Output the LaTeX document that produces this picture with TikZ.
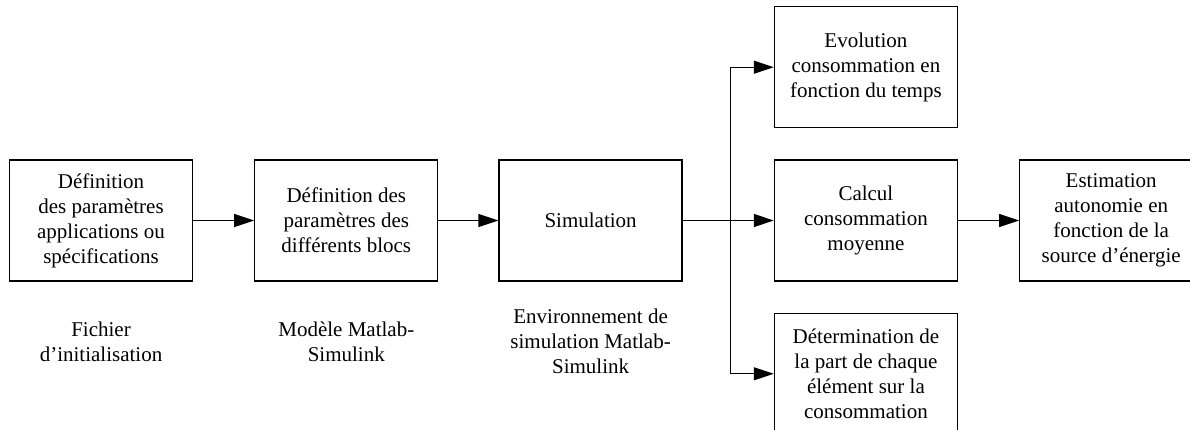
\documentclass[tikz,border=0pt]{standalone}
\usepackage{fontspec}
\setmainfont{Liberation Serif}
\usetikzlibrary{positioning,arrows.meta}

\begin{document}
\begin{tikzpicture}[
		x=1pt, y=-1pt,
		block/.style={rectangle, draw=black, line width=1.3pt, minimum width=183pt, minimum height=121pt, align=center, inner sep=2pt, font=\fontsize{21}{25}\selectfont},
		note/.style={align=center, font=\fontsize{21}{25}\selectfont},
		link/.style={line width=1.3pt, -{Triangle[length=20pt, width=13pt]}},
		]
		\useasboundingbox (0,0) rectangle (1190,430);

		%Main Nodes
		\node[block]	(params)		at (101,220.5)			{Définition\\des paramètres\\applications ou\\spécifications};
		\node[block]	(blocks)		[right=61pt of params]	{Définition des\\paramètres des\\différents blocs};
		\node[block]	(simulation)	[right=60pt of blocks]	{Simulation};

		%Results
		\node[block]	(average)		[right=91pt of simulation]	{Calcul\\consommation\\moyenne};
		\node[block]	(evolution)		[above=31pt of average]		{Evolution\\consommation en\\fonction du temps};
		\node[block]	(share)			[below=31pt of average]		{Détermination de\\la part de chaque\\élément sur la\\consommation};
		\node[block]	(autonomy)		[right=61pt of average]		{Estimation\\autonomie en\\fonction de la\\source d’énergie};

		%Notes
		\node[note]	(note_init)	[below=60pt of params.south, anchor=center]		{Fichier\\d’initialisation};
		\node[note]	(note_model)	[below=60pt of blocks.south, anchor=center]		{Modèle Matlab-\\Simulink};
		\node[note]	(note_env)	[below=60pt of simulation.south, anchor=center]	{Environnement de\\simulation Matlab-\\Simulink};

		%Main Lines
		\coordinate[right=48pt of simulation.east]	(branch);
		\draw[link]	(params.east)		--	(blocks.west);
		\draw[link]	(blocks.east)		--	(simulation.west);
		\draw[link]	(simulation.east)	--	(average.west);
		\draw[link]	(branch)			|-	(evolution.west);
		\draw[link]	(branch)			|-	(share.west);
		\draw[link]	(average.east)		--	(autonomy.west);

	\end{tikzpicture}
\end{document}
